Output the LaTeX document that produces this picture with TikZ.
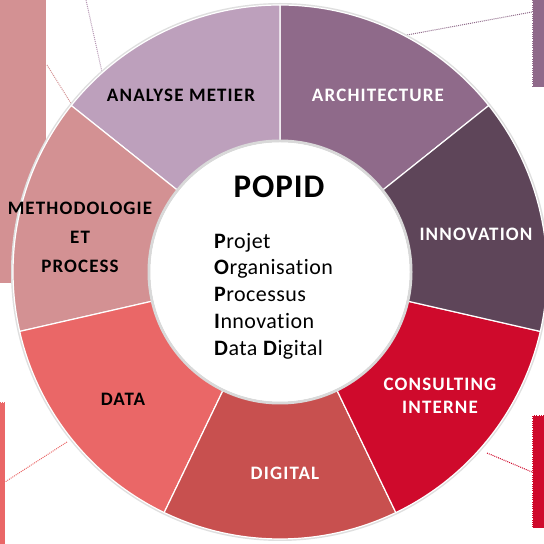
\documentclass[tikz,border=0pt]{standalone}
\usepackage{fontspec}
\setmainfont{Carlito}[Ligatures=NoCommon]
\usetikzlibrary{positioning}

\definecolor{analyse}{HTML}{BDA0BC}
\definecolor{archi}{HTML}{8F6A8A}
\definecolor{innov}{HTML}{5E4559}
\definecolor{consult}{HTML}{CF0A2C}
\definecolor{digital}{HTML}{C8504F}
\definecolor{data}{HTML}{EA6767}
\definecolor{metho}{HTML}{D39193}

\tikzset{
  segment/.style={draw=white, line width=1.2pt, line join=round},
  label_dark/.style={font=\bfseries\fontsize{19}{29}\selectfont\addfontfeature{LetterSpace=6}, text=black, align=center, inner sep=0pt},
  label_light/.style={label_dark, text=white},
  side_box/.style={draw=white, densely dotted, line width=0.8pt},
  link/.style={densely dotted, line width=1pt},
}

\begin{document}
\begin{tikzpicture}[line join=bevel]
\useasboundingbox (0pt,0pt) rectangle (544pt,544pt);
%% side boxes
\fill[metho] (0pt,544pt) rectangle (46pt,261pt);
\draw[side_box, fill=archi] (532pt,545pt) rectangle (545pt,457pt);
\draw[side_box, fill=data] (-1pt,142pt) rectangle (5pt,-1pt);
\draw[side_box, fill=consult] (532pt,129pt) rectangle (545pt,16pt);
\coordinate (link_0a) at (86pt,544pt);
\coordinate (link_0b) at (102pt,472pt);
\coordinate (link_1a) at (47pt,479pt);
\coordinate (link_1b) at (72pt,439pt);
\coordinate (link_2a) at (407pt,509pt);
\coordinate (link_2b) at (532pt,532pt);
\coordinate (link_3a) at (67pt,102pt);
\coordinate (link_3b) at (5pt,62pt);
\coordinate (link_4a) at (487pt,91pt);
\coordinate (link_4b) at (532pt,72pt);
\draw[link, analyse!80!archi] (link_0a) -- (link_0b);
\draw[link, metho] (link_1a) -- (link_1b);
\draw[link, archi] (link_2a) -- (link_2b);
\draw[link, data] (link_3a) -- (link_3b);
\draw[link, consult] (link_4a) -- (link_4b);
%% ring
\begin{scope}[shift={(280pt,272pt)}]
\draw[gray!25, line width=2pt] (0,0) circle (268pt);
\draw[segment, fill=archi] (38.57:267pt) arc[start angle=38.57, end angle=90, radius=267pt] -- (90:131pt) arc[start angle=90, end angle=38.57, radius=131pt] -- cycle;
\draw[segment, fill=analyse] (90:267pt) arc[start angle=90, end angle=141.43, radius=267pt] -- (141.43:131pt) arc[start angle=141.43, end angle=90, radius=131pt] -- cycle;
\draw[segment, fill=metho] (141.43:267pt) arc[start angle=141.43, end angle=192.86, radius=267pt] -- (192.86:131pt) arc[start angle=192.86, end angle=141.43, radius=131pt] -- cycle;
\draw[segment, fill=data] (192.86:267pt) arc[start angle=192.86, end angle=244.29, radius=267pt] -- (244.29:131pt) arc[start angle=244.29, end angle=192.86, radius=131pt] -- cycle;
\draw[segment, fill=digital] (244.29:267pt) arc[start angle=244.29, end angle=295.71, radius=267pt] -- (295.71:131pt) arc[start angle=295.71, end angle=244.29, radius=131pt] -- cycle;
\draw[segment, fill=consult] (295.71:267pt) arc[start angle=295.71, end angle=347.14, radius=267pt] -- (347.14:131pt) arc[start angle=347.14, end angle=295.71, radius=131pt] -- cycle;
\draw[segment, fill=innov] (347.14:267pt) arc[start angle=347.14, end angle=398.57, radius=267pt] -- (398.57:131pt) arc[start angle=398.57, end angle=347.14, radius=131pt] -- cycle;
\draw[gray!30, line width=3pt] (0,0) circle (131pt);
\fill[white] (0,0) circle (129.5pt);
\end{scope}
%% labels
\node (node_analyse) at (181pt,449pt) [label_dark] {ANALYSE METIER};
\node (node_archi) at (378pt,449pt) [label_light] {ARCHITECTURE};
\node (node_innov) at (476pt,310pt) [label_light] {INNOVATION};
\node (node_consult) at (440pt,148pt) [label_light, font=\bfseries\fontsize{19}{23}\selectfont\addfontfeature{LetterSpace=6}] {CONSULTING\\INTERNE};
\node (node_digital) at (285pt,71pt) [label_light] {DIGITAL};
\node (node_data) at (123pt,145pt) [label_dark] {DATA};
\node (node_metho) at (80pt,307pt) [label_dark] {METHODOLOGIE\\ET\\PROCESS};
%% center
\node (node_popid) at (279pt,357pt) [font=\bfseries\fontsize{33}{38}\selectfont\addfontfeature{LetterSpace=3}, inner sep=0pt] {POPID};
\node (node_list) at (214pt,248pt) [anchor=west, align=left, inner sep=0pt, font=\fontsize{22}{26.75}\selectfont\addfontfeature{LetterSpace=2}]
  {\textbf{P}rojet\\ \textbf{O}rganisation\\ \textbf{P}rocessus\\ \textbf{I}nnovation\\ \textbf{D}ata \textbf{D}igital};
%
\end{tikzpicture}
\end{document}
